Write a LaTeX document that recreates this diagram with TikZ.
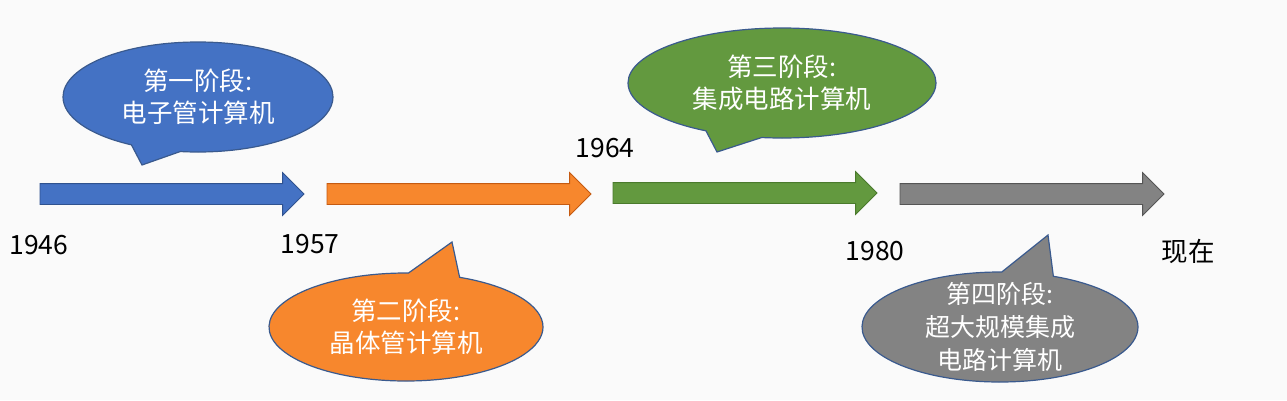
\documentclass[tikz,border=0pt]{standalone}
\usepackage{fontspec}
\setmainfont{Noto Sans CJK SC}
\usetikzlibrary{shapes.arrows,shapes.callouts}
\definecolor{bg}{HTML}{FAFAFA}
\definecolor{cblue}{HTML}{4472C4}
\definecolor{cblueD}{HTML}{2F528F}
\definecolor{corange}{HTML}{F7872D}
\definecolor{corangeD}{HTML}{C55A11}
\definecolor{cgreen}{HTML}{63993F}
\definecolor{cgreenD}{HTML}{4A7A2C}
\definecolor{cgray}{HTML}{838383}
\definecolor{cgrayD}{HTML}{555555}
\definecolor{bubbleline}{HTML}{3A5A8E}
\begin{document}
\begin{tikzpicture}[x=1pt,y=-1pt,
  tarrow/.style={single arrow, draw, minimum height=264pt,
    single arrow head extend=11pt, inner xsep=0pt, inner ysep=10pt,
    text height=0pt, text depth=0pt, line width=0.8pt, anchor=tail, outer sep=0pt},
  bubble/.style={ellipse callout, draw=bubbleline, line width=1.2pt,
    inner sep=0pt, outer sep=0pt, callout pointer arc=22},
  btext/.style={text=white, align=center, font=\fontsize{25.5}{32}\selectfont},
  year/.style={font=\fontsize{26.5}{30}\selectfont, text=black}]
\useasboundingbox[fill=bg] (0,0) rectangle (1287,400);

% timeline arrows
\node[tarrow, fill=cblue, draw=cblueD] (a1) at (40,194) {};
\node[tarrow, fill=corange, draw=corangeD] (a2) at (327,194) {};
\node[tarrow, fill=cgreen, draw=cgreenD] (a3) at (613,193) {};
\node[tarrow, fill=cgray, draw=cgrayD] (a4) at (900,194) {};

% years
\node[year] (y1946) at (39,245) {1946};
\node[year] (y1957) at (310,244) {1957};
\node[year] (y1964) at (605,148) {1964};
\node[year] (y1980) at (875,251) {1980};
\node[year] (ynow) at (1188,251) {现在};

% callouts
\node[bubble, fill=cblue, minimum width=270pt, minimum height=110pt,
  callout absolute pointer={(142,165)}] (b1) at (198,97) {};
\node[btext] (t1) at (b1.center) {第一阶段:\\电子管计算机};

\node[bubble, fill=corange, minimum width=274pt, minimum height=108pt,
  callout absolute pointer={(452,242)}] (b2) at (406,327) {};
\node[btext] (t2) at (b2.center) {第二阶段:\\晶体管计算机};

\node[bubble, fill=cgreen, minimum width=308pt, minimum height=110pt,
  callout absolute pointer={(717,152)}] (b3) at (782,83) {};
\node[btext] (t3) at (b3.center) {第三阶段:\\集成电路计算机};

\node[bubble, fill=cgray, minimum width=276pt, minimum height=110pt,
  callout absolute pointer={(1048,235)}] (b4) at (1000,327) {};
\node[btext, font=\fontsize{25}{33}\selectfont] (t4) at (b4.center) {第四阶段:\\超大规模集成\\电路计算机};
\end{tikzpicture}
\end{document}
